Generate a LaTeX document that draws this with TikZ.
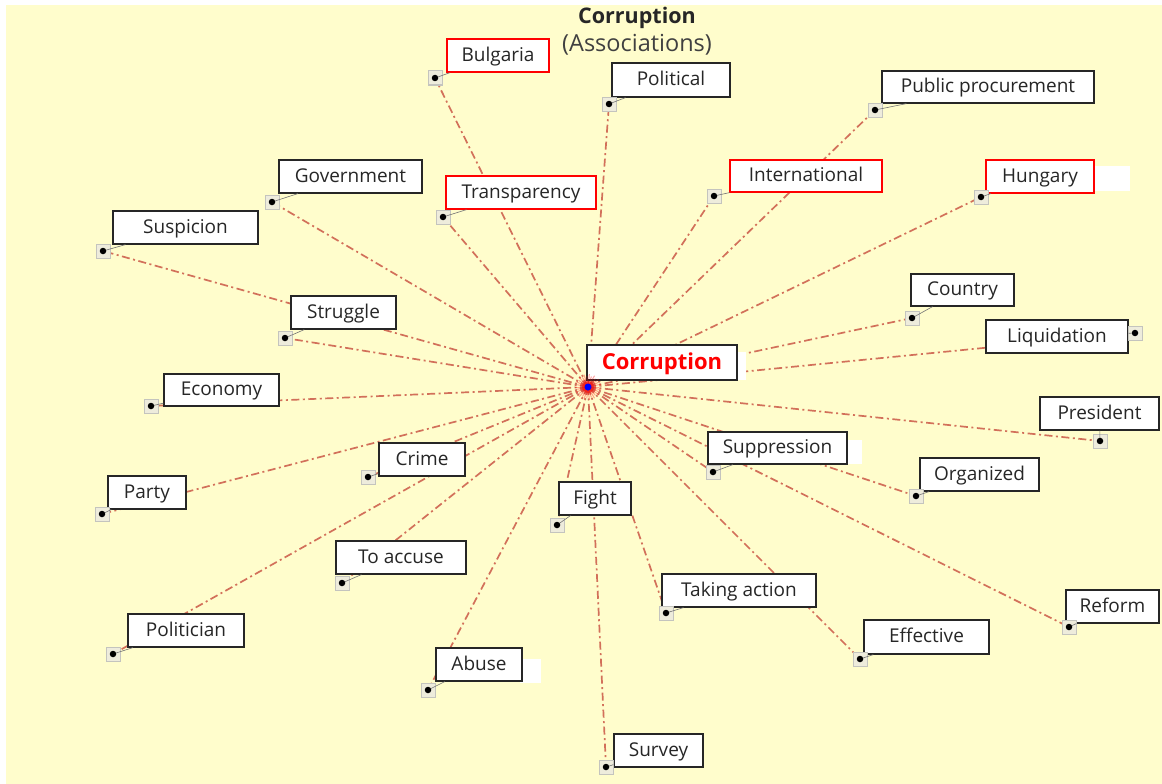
\documentclass[tikz,border=0pt]{standalone}
\usepackage{fontspec}
\setmainfont{Open Sans}
\definecolor{bgyellow}{RGB}{255,253,204}
\definecolor{conncol}{RGB}{210,112,90}
\definecolor{mkfill}{RGB}{238,236,220}
\definecolor{mkdraw}{RGB}{196,196,190}
\pgfdeclarelayer{connlayer}
\pgfsetlayers{connlayer,main}
\tikzset{
  lbox/.style={draw=black!85, line width=1.2pt, fill=white, inner sep=0pt,
    font=\fontsize{19}{22}\selectfont, text=black!85,
    text height=13.5pt, text depth=2pt},
  rbox/.style={lbox, draw=red},
  mkbox/.style={draw=mkdraw, fill=mkfill, line width=1pt, minimum size=14pt,
    inner sep=0pt, shape=rectangle},
  mkdot/.style={circle, fill=black, inner sep=0pt, minimum size=6.5pt},
  connline/.style={draw=conncol, line width=1.7pt,
    dash pattern=on 8pt off 3.5pt on 2pt off 3.5pt},
  tickline/.style={draw=black!55, line width=0.6pt},
  blob/.style={fill=white, draw=none},
  burst/.style={draw=red, opacity=0.35, line width=1pt},
}
% name, style, left, top, right, bottom, text, marker x, marker y
\newcommand\mylab[9]{%
  \coordinate (m#1) at (#8,#9);
  \begin{pgfonlayer}{connlayer}\draw[connline] (c) -- (m#1);\end{pgfonlayer}
  \node[#2, minimum width={#5-#3}, minimum height={#6-#4}] (#1)
    at ({(#3+#5)/2},{(#4+#6)/2}) {#7};
  \node[mkbox] (k#1) at (m#1) {};
  \draw[tickline] (m#1) -- (#1);
  \node[mkdot] (d#1) at (m#1) {};
}
\begin{document}
\begin{tikzpicture}[x=1pt,y=-1pt]
\useasboundingbox (0,0) rectangle (1162,784);
\begin{pgfonlayer}{connlayer}
\fill[white] (0,0) rectangle (1162,784);
\fill[bgyellow] (6,5) rectangle (1162,784);
\end{pgfonlayer}
\coordinate (c) at (588,387);

\node[font=\fontsize{21.5}{24}\selectfont\bfseries, text=black!85] (title) at (637,18) {Corruption};
\node[font=\fontsize{23.5}{26}\selectfont, text=black!75] (subtitle) at (637,45) {(Associations)};

% white blobs behind some labels
\fill[blob] (1090,166) rectangle (1130,191);
\fill[blob] (845,440) rectangle (862,464);
\fill[blob] (520,659) rectangle (541,683);
\fill[blob] (735,352) rectangle (746,380);

\mylab{bul}{rbox}{447}{39}{549}{72}{Bulgaria}{435}{78}
\mylab{pol}{lbox}{612}{63}{730}{97}{Political}{609}{104}
\mylab{pub}{lbox}{882}{71}{1094}{103}{Public procurement}{875}{110}
\mylab{gov}{lbox}{279}{160}{422}{193}{Government}{272}{202}
\mylab{tra}{rbox}{446}{176}{596}{209}{Transparency}{443}{217}
\mylab{int}{rbox}{730}{160}{882}{192}{International}{714}{196}
\mylab{hun}{rbox}{986}{160}{1094}{193}{Hungary}{981}{197}
\mylab{sus}{lbox}{113}{211}{258}{244}{Suspicion}{103}{251}
\mylab{str}{lbox}{291}{296}{396}{329}{Struggle}{285}{338}
\mylab{cou}{lbox}{911}{274}{1014}{306}{Country}{912}{318}
\mylab{liq}{lbox}{986}{320}{1128}{353}{Liquidation}{1135}{333}
\mylab{eco}{lbox}{164}{374}{279}{406}{Economy}{151}{406}
\mylab{pre}{lbox}{1040}{397}{1159}{430}{President}{1100}{441}
\mylab{sup}{lbox}{708}{432}{847}{464}{Suppression}{713}{472}
\mylab{cri}{lbox}{379}{443}{465}{476}{Crime}{368}{477}
\mylab{org}{lbox}{920}{458}{1039}{491}{Organized}{916}{496}
\mylab{par}{lbox}{108}{476}{186}{509}{Party}{102}{514}
\mylab{fig}{lbox}{559}{482}{631}{515}{Fight}{557}{525}
\mylab{acc}{lbox}{336}{541}{466}{574}{To accuse}{342}{583}
\mylab{tak}{lbox}{662}{574}{816}{607}{Taking action}{666}{613}
\mylab{ref}{lbox}{1066}{590}{1159}{623}{Reform}{1069}{627}
\mylab{pln}{lbox}{128}{614}{244}{647}{Politician}{113}{654}
\mylab{eff}{lbox}{864}{620}{989}{654}{Effective}{860}{659}
\mylab{abu}{lbox}{436}{648}{522}{681}{Abuse}{428}{690}
\mylab{sur}{lbox}{614}{734}{703}{767}{Survey}{606}{767}

% central node
\node[lbox, minimum width=150pt, minimum height=35pt,
  font=\fontsize{22}{25}\selectfont\bfseries, text=red,
  text height=15.5pt, text depth=2pt] (cor) at (662,362.5) {Corruption};
\foreach \a in {0,12,...,348} {
  \draw[burst] (c) -- ++(\a:{11+mod(\a,24)/6});
}
\fill[red, opacity=0.45] (c) circle (6pt);
\node[circle, fill=blue, inner sep=0pt, minimum size=7pt] (cdot) at (c) {};
\end{tikzpicture}
\end{document}
